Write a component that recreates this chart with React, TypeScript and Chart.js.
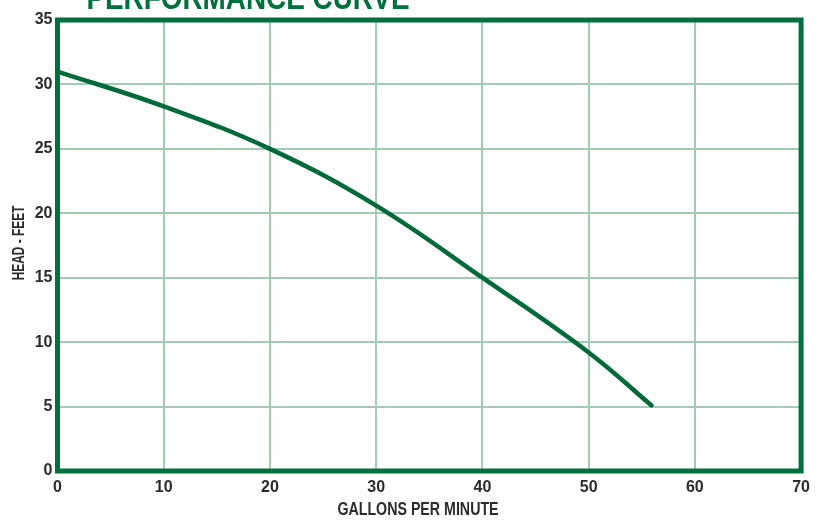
import React, { useEffect, useRef } from "react";
import { Chart, registerables } from "chart.js";

Chart.register(...registerables);

const flowGpm = [0, 10, 20, 30, 40, 50, 55.9];
const headFeet = [31.0, 28.3, 25.0, 20.6, 15.0, 9.2, 5.1];
const xTicks = [0, 10, 20, 30, 40, 50, 60, 70];
const yTicks = [0, 5, 10, 15, 20, 25, 30, 35];
const chartTitle = "PERFORMANCE CURVE";
const xTitle = "GALLONS PER MINUTE";
const yTitle = "HEAD - FEET";

const GREEN = "#00703c";
const GRID = "#a2cbb3";
const SANS = '"Liberation Sans", Arial, sans-serif';

function drawNarrow(ctx: CanvasRenderingContext2D, text: string, x: number, y: number, squeeze: number) {
  ctx.save();
  ctx.translate(x, y);
  ctx.scale(squeeze, 1);
  ctx.fillText(text, 0, 0);
  ctx.restore();
}

const decorPlugin = {
  id: "decor",
  beforeDatasetsDraw(chart: any) {
    const { ctx, chartArea } = chart;
    ctx.save();
    ctx.strokeStyle = GREEN;
    ctx.lineWidth = 5;
    ctx.lineJoin = "miter";
    ctx.strokeRect(chartArea.left, chartArea.top, chartArea.right - chartArea.left, chartArea.bottom - chartArea.top);
    ctx.restore();
  },
  afterDraw(chart: any) {
    const { ctx } = chart;
    ctx.save();
    ctx.fillStyle = GREEN;
    ctx.font = `bold 34px ${SANS}`;
    ctx.textAlign = "center";
    ctx.textBaseline = "alphabetic";
    drawNarrow(ctx, chartTitle, 248, 9, 0.82);

    ctx.fillStyle = "#2b2b2b";
    ctx.font = `bold 18px ${SANS}`;
    ctx.textBaseline = "middle";
    drawNarrow(ctx, xTitle, 418, 510, 0.79);

    ctx.translate(19, 243);
    ctx.rotate(-Math.PI / 2);
    ctx.font = `bold 17px ${SANS}`;
    drawNarrow(ctx, yTitle, 0, 0, 0.7);
    ctx.restore();
  },
};

export default function App() {
  const ref = useRef<HTMLCanvasElement | null>(null);

  useEffect(() => {
    if (!ref.current) return;
    const chart = new Chart(ref.current, {
      type: "line",
      data: {
        datasets: [
          {
            data: flowGpm.map((x, i) => ({ x, y: headFeet[i] })),
            borderColor: "#006b39",
            borderWidth: 4.5,
            borderCapStyle: "round",
            pointRadius: 0,
            tension: 0.4,
            fill: false,
          },
        ],
      },
      options: {
        animation: false,
        responsive: true,
        maintainAspectRatio: false,
        layout: { padding: { left: 0, right: 15.5, top: 20, bottom: 0 } },
        plugins: { legend: { display: false }, tooltip: { enabled: false }, title: { display: false } },
        scales: {
          x: {
            type: "linear",
            min: 0,
            max: 70,
            afterFit: (s: any) => {
              s.height = 50;
            },
            afterBuildTicks: (s: any) => {
              s.ticks = xTicks.map((v) => ({ value: v }));
            },
            border: { display: false },
            grid: { color: GRID, lineWidth: 2, drawTicks: false },
            ticks: {
              color: "#2b2b2b",
              padding: 7,
              maxRotation: 0,
              font: { family: SANS, size: 16, weight: "bold" },
            },
          },
          y: {
            type: "linear",
            min: 0,
            max: 35,
            afterFit: (s: any) => {
              s.width = 57.5;
            },
            afterBuildTicks: (s: any) => {
              s.ticks = yTicks.map((v) => ({ value: v }));
            },
            border: { display: false },
            grid: { color: GRID, lineWidth: 2, drawTicks: false },
            ticks: {
              color: "#2b2b2b",
              padding: 5,
              font: { family: SANS, size: 16, weight: "bold" },
            },
          },
        },
      } as any,
      plugins: [decorPlugin],
    });
    return () => chart.destroy();
  }, []);

  return (
    <div style={{ position: "absolute", left: 0, top: 0, width: 817, height: 521, background: "#fff" }}>
      <canvas ref={ref} />
    </div>
  );
}
